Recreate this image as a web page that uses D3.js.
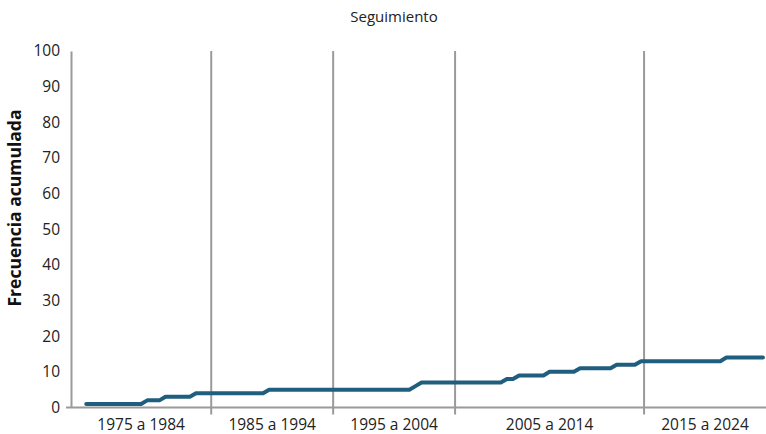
<!DOCTYPE html>
<html>
<head>
<meta charset="utf-8">
<script src="https://cdn.jsdelivr.net/npm/d3@7"></script>
<style>
  body { margin: 0; background: #fff; }
  text { font-family: "Open Sans", sans-serif; }
</style>
</head>
<body>
<div id="chart"></div>
<script>
// decade groups on the category axis and how many records each one holds
var groups = ["1975 a 1984", "1985 a 1994", "1995 a 2004", "2005 a 2014", "2015 a 2024"];
var groupSizes = [23, 20, 20, 31, 20];

// cumulative frequency, one value per record (null = no value)
var values = [
    null, null, 1, 1, 1, 1, 1, 1, 1, 1, 1, 1, 2, 2, 2, 3, 3, 3, 3, 3, 4, 4, 4,
    4, 4, 4, 4, 4, 4, 4, 4, 4, 5, 5, 5, 5, 5, 5, 5, 5, 5, 5, 5,
    5, 5, 5, 5, 5, 5, 5, 5, 5, 5, 5, 5, 5, 6, 7, 7, 7, 7, 7, 7,
    7, 7, 7, 7, 7, 7, 7, 7, 8, 8, 9, 9, 9, 9, 9, 10, 10, 10, 10, 10, 11, 11, 11, 11, 11, 11, 12, 12, 12, 12, 13,
    13, 13, 13, 13, 13, 13, 13, 13, 13, 13, 13, 13, 13, 14, 14, 14, 14, 14, 14, 14
];

var yTicks = [0, 10, 20, 30, 40, 50, 60, 70, 80, 90, 100];

function drawChart() {
    var width = 766, height = 434;
    var plotLeft = 71, plotRight = 766, plotTop = 51, plotBottom = 407.5;

    var svg = d3.select("#chart")
        .append("svg")
        .attr("width", width)
        .attr("height", height);

    var x = d3.scaleBand()
        .domain(d3.range(values.length))
        .range([plotLeft, plotRight])
        .padding(0);

    var y = d3.scaleLinear()
        .domain([0, 100])
        .range([plotBottom, plotTop]);

    // group boundaries (start index of each group)
    var starts = [];
    var acc = 0;
    groupSizes.forEach(function (n) { starts.push(acc); acc += n; });

    function edge(i) {
        return i >= values.length ? plotRight : x(i);
    }

    // title
    svg.append("text")
        .attr("x", 394)
        .attr("y", 22)
        .attr("text-anchor", "middle")
        .attr("font-size", 15)
        .attr("fill", "#222")
        .text("Seguimiento");

    // vertical separators between groups
    svg.append("g")
        .selectAll("line")
        .data(starts.slice(1))
        .enter().append("line")
        .attr("x1", function (d) { return edge(d); })
        .attr("x2", function (d) { return edge(d); })
        .attr("y1", plotTop)
        .attr("y2", plotBottom + 7)
        .attr("stroke", "#9a9a9a")
        .attr("stroke-width", 2);

    // y axis
    var yAxis = svg.append("g")
        .attr("transform", "translate(" + plotLeft + ",0)")
        .call(d3.axisLeft(y).tickValues(yTicks).tickSize(0).tickPadding(11));
    yAxis.select(".domain").attr("stroke", "#9a9a9a").attr("stroke-width", 2);
    yAxis.selectAll("text")
        .attr("font-size", 15.5)
        .attr("fill", "#222")
        .style("font-family", "Open Sans, sans-serif");

    // x axis line
    svg.append("line")
        .attr("x1", plotLeft - 5)
        .attr("x2", plotRight)
        .attr("y1", y(0))
        .attr("y2", y(0))
        .attr("stroke", "#9a9a9a")
        .attr("stroke-width", 2);

    // group labels
    svg.append("g")
        .selectAll("text")
        .data(groups)
        .enter().append("text")
        .attr("x", function (d, i) {
            return (edge(starts[i]) + edge(starts[i] + groupSizes[i])) / 2;
        })
        .attr("y", 430)
        .attr("text-anchor", "middle")
        .attr("font-size", 15.5)
        .attr("fill", "#222")
        .text(function (d) { return d; });

    // y axis title
    svg.append("text")
        .attr("transform", "translate(21,208) rotate(-90)")
        .attr("text-anchor", "middle")
        .attr("font-size", 17.5)
        .attr("font-weight", "bold")
        .attr("fill", "#111")
        .text("Frecuencia acumulada");

    // cumulative line
    var line = d3.line()
        .defined(function (d) { return d != null; })
        .x(function (d, i) { return x(i) + x.bandwidth() / 2; })
        .y(function (d) { return y(d); });

    svg.append("path")
        .datum(values)
        .attr("fill", "none")
        .attr("stroke", "#1f5e7e")
        .attr("stroke-width", 4)
        .attr("stroke-linejoin", "round")
        .attr("stroke-linecap", "round")
        .attr("d", line);
}

drawChart();
</script>
</body>
</html>
